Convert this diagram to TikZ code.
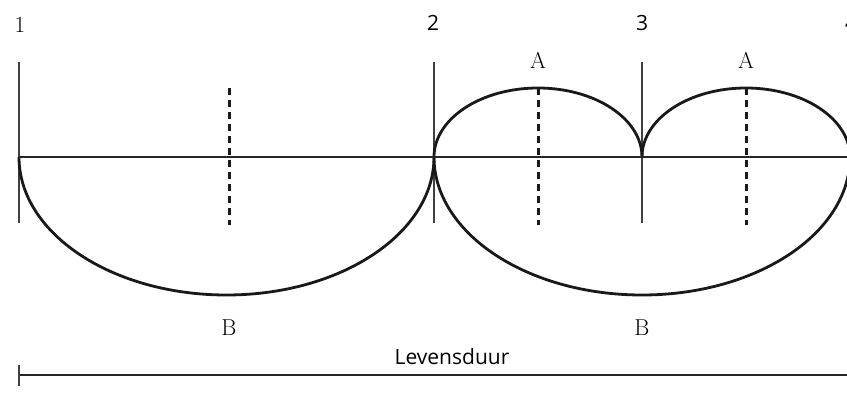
\documentclass[tikz,border=0pt]{standalone}
\usepackage{fontspec}
\newfontfamily\labelsans{Open Sans}
\usetikzlibrary{positioning, calc}

\begin{document}
\begin{tikzpicture}[
  x=1pt, y=1pt,
  axis/.style={line width=2.9pt, black!85},
  lobe/.style={line width=2.8pt, black!90},
  guide/.style={line width=1.3pt, black!75},
  middash/.style={line width=3pt, black!90, dash pattern=on 7pt off 5pt},
  moment/.style={font=\labelsans\fontsize{21}{21}\selectfont, inner sep=0pt},
  letter/.style={font=\fontsize{23}{23}\selectfont, inner sep=0pt},
]
\useasboundingbox (0,0) rectangle (847,-394);

% Moments on the time axis.
\coordinate (t1) at (19,-157);
\coordinate (t2) at (434,-157);
\coordinate (t3) at (642,-157);
\coordinate (t4) at (850,-157);

% Moment labels and thin guides.
\node[inner sep=0pt, font=\fontsize{23}{23}\selectfont] (n1) at (20,-25) {\oldstylenums{1}};
\node[moment] (n2) at (433,-23) {2};
\node[moment] (n3) at (642,-23) {3};
\node[moment] (n4) at (851,-23) {4};
\foreach \t in {t1, t2, t3} {
  \draw[guide] ($(\t)+(0,95)$) -- ($(\t)+(0,-66)$);
}

% Lower lobes (B) and upper lobes (A).
\draw[lobe] (t1) arc[start angle=180, end angle=360, x radius=207.5pt, y radius=138pt];
\draw[lobe] (t2) arc[start angle=180, end angle=360, x radius=208pt, y radius=138pt];
\draw[lobe] (t2) arc[start angle=180, end angle=0, x radius=104pt, y radius=69pt];
\draw[lobe] (t3) arc[start angle=180, end angle=0, x radius=104pt, y radius=69pt];

% Dashed middles.
\foreach \x in {229, 538, 746} {
  \draw[middash] (\x,-88) -- (\x,-225);
}

% Time axis on top of everything.
\draw[axis] (t1) -- (t4);

\node[letter] (a1) at (538,-60) {A};
\node[letter] (a2) at (746,-60) {A};
\node[letter] (b1) at (229,-328) {B};
\node[letter] (b2) at (642,-328) {B};

% Life span bar.
\node[font=\labelsans\fontsize{21}{21}\selectfont, inner sep=0pt] (life) at (452,-357) {Levensduur};
\coordinate (l0) at (19,-375);
\coordinate (l1) at (850,-375);
\draw[axis] (l0) -- (l1);
\draw[guide] ($(l0)+(0,10)$) -- ($(l0)+(0,-11)$);
\end{tikzpicture}
\end{document}
